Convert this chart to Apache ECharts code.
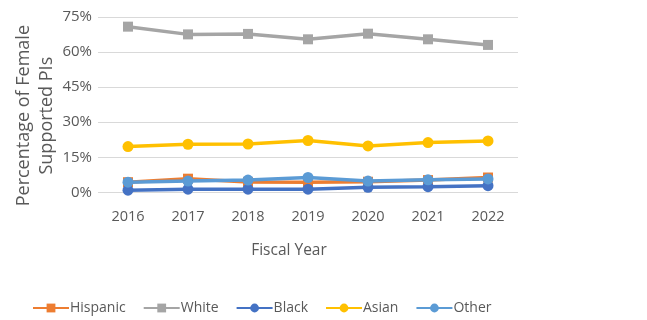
<!DOCTYPE html>
<html>
<head>
<meta charset="utf-8">
<script src="https://cdn.jsdelivr.net/npm/echarts@6/dist/echarts.min.js"></script>
<style>
  html, body { margin: 0; padding: 0; background: #fff; }
  #chart { width: 647px; height: 320px; }
</style>
</head>
<body>
<div id="chart"></div>
<script>
const years = ['2016', '2017', '2018', '2019', '2020', '2021', '2022'];
const hispanic = [4.4, 5.9, 4.5, 4.4, 4.6, 5.3, 6.4];
const white = [70.8, 67.5, 67.7, 65.4, 67.8, 65.4, 63.0];
const black = [1.0, 1.4, 1.4, 1.4, 2.2, 2.5, 2.9];
const asian = [19.6, 20.6, 20.7, 22.2, 19.9, 21.3, 22.0];
const other = [4.4, 4.9, 5.3, 6.4, 4.9, 5.4, 5.8];

const textColor = '#595959';
const fontFamily = 'Open Sans';

const chartDom = document.getElementById('chart');
const myChart = echarts.init(chartDom);

function lineSeries(name, data, color, symbol) {
    return {
        name: name,
        type: 'line',
        data: data,
        symbol: symbol,
        symbolSize: symbol === 'rect' ? 10 : 11,
        lineStyle: { color: color, width: 3.5 },
        itemStyle: { color: color },
        emphasis: { disabled: true },
        animation: false
    };
}

const option = {
    textStyle: { fontFamily: fontFamily },
    grid: {
        left: 98,
        right: 129,
        top: 15,
        bottom: 127.5
    },
    legend: {
        left: 32,
        top: 301,
        padding: 0,
        itemWidth: 36,
        itemHeight: 11,
        itemGap: 17,
        textStyle: { color: textColor, fontSize: 14, fontFamily: fontFamily, padding: [0, 0, 0, -4] },
        data: ['Hispanic', 'White', 'Black', 'Asian', 'Other']
    },
    xAxis: {
        type: 'category',
        data: years,
        name: 'Fiscal Year',
        nameLocation: 'middle',
        nameGap: 50,
        nameMoveOverlap: false,
        nameTextStyle: { color: textColor, fontSize: 15.5, padding: [0, 38, 0, 0] },
        axisLine: { show: false },
        axisTick: { show: false },
        axisLabel: { color: textColor, fontSize: 14.5, margin: 17 }
    },
    yAxis: {
        type: 'value',
        min: 0,
        max: 75,
        interval: 15,
        name: 'Percentage of Female\nSupported PIs',
        nameLocation: 'middle',
        nameGap: 40,
        nameMoveOverlap: false,
        nameTextStyle: { color: textColor, fontSize: 18, lineHeight: 23, padding: [0, 22, 0, 0] },
        axisLabel: { color: textColor, fontSize: 15, formatter: '{value}%', margin: 6 },
        splitLine: { lineStyle: { color: '#D9D9D9', width: 1 } }
    },
    series: [
        lineSeries('Hispanic', hispanic, '#ED7D31', 'rect'),
        lineSeries('White', white, '#A5A5A5', 'rect'),
        lineSeries('Black', black, '#4472C4', 'circle'),
        lineSeries('Asian', asian, '#FFC000', 'circle'),
        lineSeries('Other', other, '#5B9BD5', 'circle')
    ]
};
myChart.setOption(option);
</script>
</body>
</html>
